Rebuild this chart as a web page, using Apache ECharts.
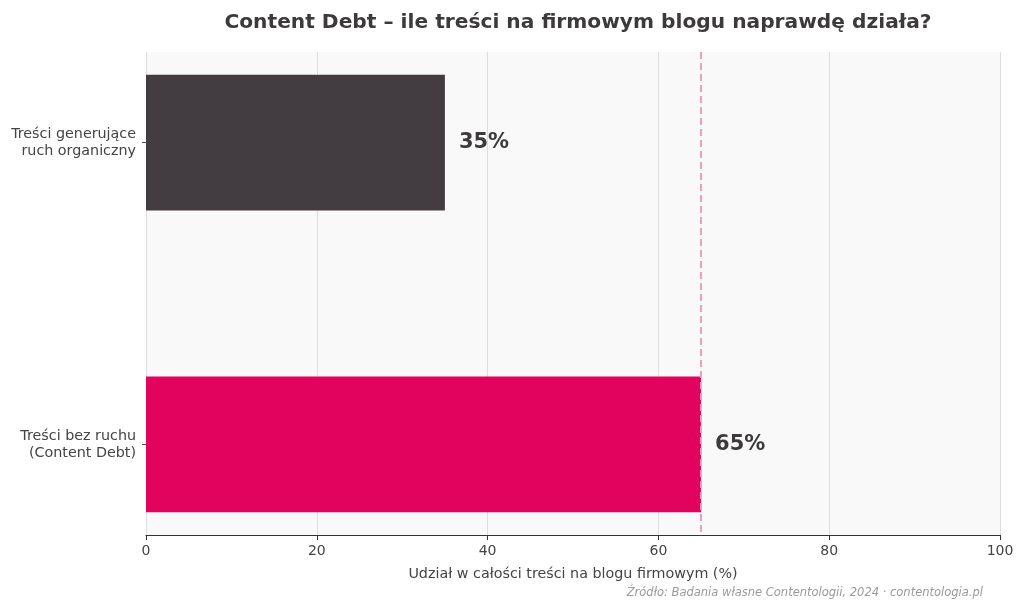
<!DOCTYPE html>
<html>
<head>
<meta charset="utf-8">
<script src="https://cdn.jsdelivr.net/npm/echarts@6/dist/echarts.min.js"></script>
<style>
  html, body { margin: 0; padding: 0; background: #fff; }
  #chart { width: 1024px; height: 611px; }
</style>
</head>
<body>
<div id="chart"></div>
<script>
// Data
const categories = ["Treści generujące\nruch organiczny", "Treści bez ruchu\n(Content Debt)"];
const shares = [35, 65];
const barColors = ["#433c40", "#e2035e"];
const xTicks = [0, 20, 40, 60, 80, 100];
const referenceShare = 65;

const chart = echarts.init(document.getElementById("chart"));
const font = "DejaVu Sans";
const barHeight = 0.45;

const option = {
  animation: false,
  textStyle: { fontFamily: font },
  title: {
    text: "Content Debt – ile treści na firmowym blogu naprawdę działa?",
    left: 573,
    textAlign: "center",
    top: 8,
    textStyle: { fontSize: 20.2, fontWeight: "bold", color: "#3d3a3c", fontFamily: font },
  },
  graphic: [
    {
      type: "text",
      right: 41,
      top: 587,
      style: {
        text: "Źródło: Badania własne Contentologii, 2024 · contentologia.pl",
        font: "italic 11.5px " + font,
        fill: "#9a9a9a",
      },
    },
  ],
  grid: {
    left: 146,
    right: 24,
    top: 52,
    bottom: 76,
    show: true,
    backgroundColor: "#f9f9f9",
    borderWidth: 0,
  },
  xAxis: {
    type: "value",
    min: xTicks[0],
    max: xTicks[xTicks.length - 1],
    interval: 20,
    name: "Udział w całości treści na blogu firmowym (%)",
    nameLocation: "middle",
    nameGap: 32,
    nameTextStyle: { fontSize: 14.3, color: "#444" },
    axisLine: { show: true, onZero: false, lineStyle: { color: "#333", width: 1.2 } },
    axisTick: { show: true, length: 5, lineStyle: { color: "#333" } },
    axisLabel: { fontSize: 14, color: "#444", margin: 9 },
    splitLine: { show: true, lineStyle: { color: "#dddddd", width: 1 } },
  },
  yAxis: {
    type: "value",
    min: -0.3,
    max: 1.3,
    inverse: true,
    axisLine: { show: false },
    axisTick: { show: true, length: 4, customValues: [0, 1], lineStyle: { color: "#444" } },
    axisLabel: {
      customValues: [0, 1],
      formatter: (v) => categories[Math.round(v)] || "",
      fontSize: 14.3,
      color: "#444",
      lineHeight: 17,
      align: "right",
      margin: 10,
    },
    splitLine: { show: false },
  },
  series: [
    {
      type: "custom",
      encode: { x: 0, y: 1 },
      data: shares.map((v, i) => [v, i]),
      renderItem: (params, api) => {
        const end = api.coord([api.value(0), api.value(1)]);
        const start = api.coord([0, api.value(1)]);
        const h = api.size([0, barHeight])[1];
        return {
          type: "group",
          children: [
            {
              type: "rect",
              shape: { x: start[0], y: end[1] - h / 2, width: end[0] - start[0], height: h },
              style: { fill: barColors[params.dataIndex] },
            },
            {
              type: "text",
              style: {
                text: api.value(0) + "%",
                x: end[0] + 14,
                y: end[1],
                verticalAlign: "middle",
                font: "bold 21px " + font,
                fill: "#3d3a3c",
              },
            },
          ],
        };
      },
      markLine: {
        silent: true,
        symbol: "none",
        label: { show: false },
        lineStyle: { color: "#f09ebf", type: [7, 4], width: 2 },
        data: [{ xAxis: referenceShare }],
      },
      z: 3,
    },
  ],
};

chart.setOption(option);
</script>
</body>
</html>
